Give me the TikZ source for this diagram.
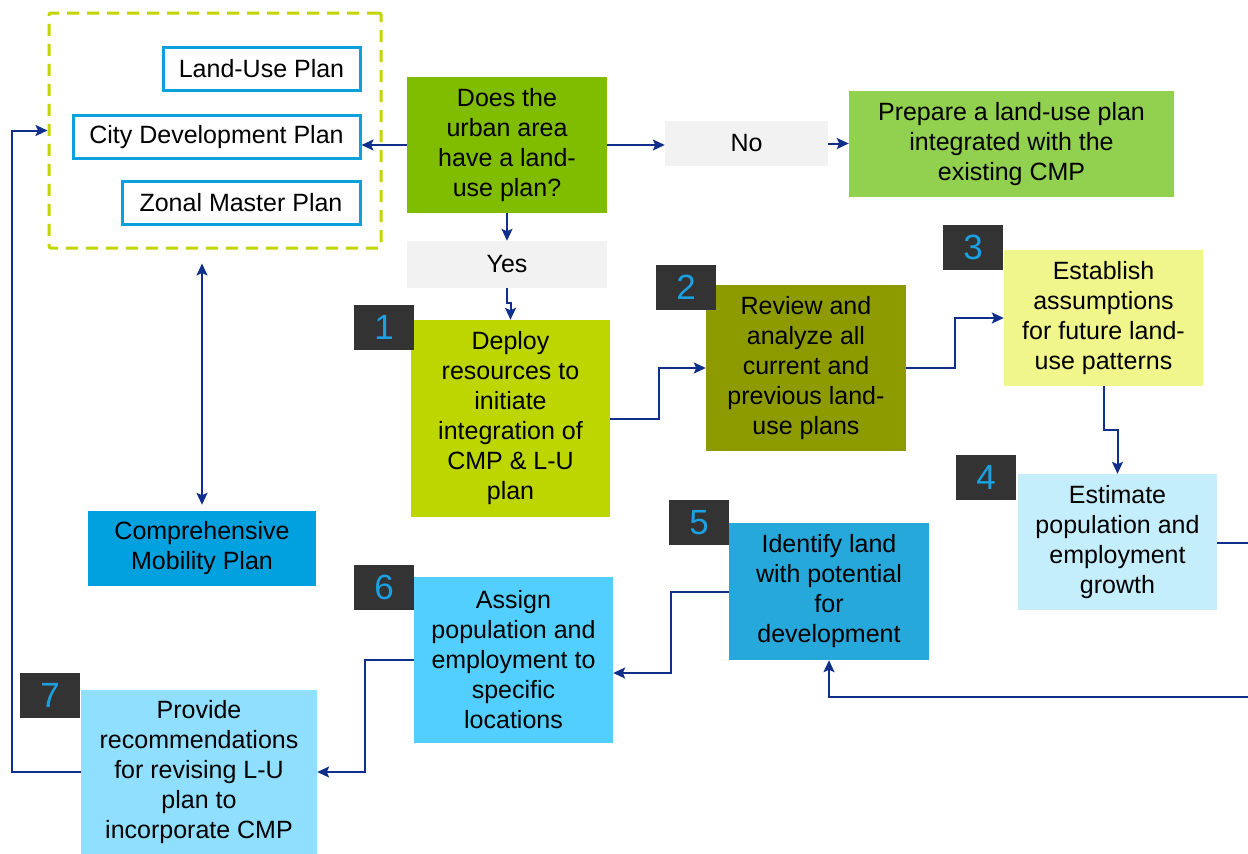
\documentclass[tikz,border=0pt]{standalone}
\usepackage{fontspec}
\setmainfont{Liberation Sans}
\usetikzlibrary{arrows.meta,calc}
\definecolor{arrowblue}{HTML}{102F8A}
\definecolor{numblue}{HTML}{1BA1E2}
\definecolor{numbg}{HTML}{333333}
\definecolor{planline}{HTML}{0AA1DD}
\definecolor{dashgreen}{HTML}{C2D500}
\definecolor{qgreen}{HTML}{80BC00}
\definecolor{prepgreen}{HTML}{92D050}
\definecolor{answergray}{HTML}{F2F2F2}
\definecolor{stepone}{HTML}{BED600}
\definecolor{steptwo}{HTML}{8E9B00}
\definecolor{stepthree}{HTML}{F1F68C}
\definecolor{stepfour}{HTML}{C5EEFC}
\definecolor{stepfive}{HTML}{27A8DB}
\definecolor{stepsix}{HTML}{52CFFE}
\definecolor{stepseven}{HTML}{91DFFF}
\definecolor{cmpblue}{HTML}{00A1DE}
\tikzset{
  box/.style={rectangle, inner sep=0pt, align=center, text=black,
    font=\fontsize{25}{30}\selectfont},
  planbox/.style={box, draw=planline, line width=3pt, fill=white,
    minimum height=43pt},
  numbox/.style={rectangle, fill=numbg, text=numblue, inner sep=0pt,
    minimum width=60pt, minimum height=45pt, font=\fontsize{35}{35}\selectfont},
  tip/.tip={Stealth[length=12pt,width=11pt,inset=2.5pt]},
  arr/.style={draw=arrowblue, line width=2pt, -tip},
  plainline/.style={draw=arrowblue, line width=2pt},
}
\begin{document}
\begin{tikzpicture}[x=1pt,y=-1pt]
\useasboundingbox (0,0) rectangle (1248,854);
\clip (0,0) rectangle (1248,854);

% group of existing plans
\node[draw=dashgreen, line width=3pt, dash pattern=on 12pt off 8pt,
      rounded corners=2pt, minimum width=332pt, minimum height=235pt,
      inner sep=0pt] (plans) at (215,130.5) {};
\node[planbox, minimum width=197pt] (lup) at (261.5,69) {Land-Use Plan};
\node[planbox, minimum width=287pt] (cdp) at (216.5,137) {City Development Plan};
\node[planbox, minimum width=238pt] (zmp) at (241,203) {Zonal Master Plan};

% decision
\node[box, fill=qgreen, minimum width=200pt, minimum height=136pt] (q) at (507,145)
  {Does the\\urban area\\have a land-\\use plan?};
\node[box, fill=answergray, minimum width=163pt, minimum height=45pt] (no) at (746.5,143.5) {No};
\node[box, fill=prepgreen, minimum width=325pt, minimum height=106pt] (prep) at (1011.5,144)
  {Prepare a land-use plan\\integrated with the\\existing CMP};
\node[box, fill=answergray, minimum width=200pt, minimum height=47pt] (yes) at (507,264.5) {Yes};

% steps
\node[box, fill=stepone, minimum width=199pt, minimum height=197pt] (s1) at (510.5,418.5)
  {Deploy\\resources to\\initiate\\integration of\\CMP \& L-U\\plan};
\node[box, fill=steptwo, minimum width=200pt, minimum height=166pt] (s2) at (806,368)
  {Review and\\analyze all\\current and\\previous land-\\use plans};
\node[box, fill=stepthree, minimum width=199pt, minimum height=136pt] (s3) at (1103.5,318)
  {Establish\\assumptions\\for future land-\\use patterns};
\node[box, fill=stepfour, minimum width=199pt, minimum height=136pt] (s4) at (1117.5,542)
  {Estimate\\population and\\employment\\growth};
\node[box, fill=stepfive, minimum width=200pt, minimum height=137pt] (s5) at (829,591.5)
  {Identify land\\with potential\\for\\development};
\node[box, fill=stepsix, minimum width=199pt, minimum height=166pt] (s6) at (513.5,660)
  {Assign\\population and\\employment to\\specific\\locations};
\node[box, fill=stepseven, minimum width=236pt, minimum height=164pt] (s7) at (199,772)
  {Provide\\recommendations\\for revising L-U\\plan to\\incorporate CMP};
\node[box, fill=cmpblue, minimum width=228pt, minimum height=75pt] (cmp) at (202,548.5)
  {Comprehensive\\Mobility Plan};

% step numbers
\node[numbox] (n1) at (384,327.5) {1};
\node[numbox] (n2) at (686,287.5) {2};
\node[numbox] (n3) at (973,247.5) {3};
\node[numbox] (n4) at (986,477.5) {4};
\node[numbox] (n5) at (699,522.5) {5};
\node[numbox] (n6) at (384,587.5) {6};
\node[numbox] (n7) at (50,695) {7};

% loose ends running past the right border
\coordinate (outA) at (1260,543);
\coordinate (outB) at (1260,697);

% connectors
\draw[arr] (q.west) -- (q.west -| cdp.east);
\draw[arr] (q.east) -- (q.east -| no.west);
\draw[arr] (no.east) -- (no.east -| prep.west);
\draw[arr] (q.south) -- (yes.north);
\draw[arr] (yes.south) -- ++(0,15) -| (s1.north);
\draw[arr] (s1.east) -- ++(49,0) |- (s2.west);
\draw[arr] (s2.east) -- ++(49,0) |- (s3.west);
\draw[arr] (s3.south) -- ++(0,44) -| (s4.north);
\draw[plainline] (s4.east |- outA) -- (outA);
\draw[arr] (outB) -| (s5.south);
\draw[arr] (s5.west) -- ++(-58,0) |- ([yshift=-13pt]s6.east);
\draw[arr] (s6.west) -- ++(-49,0) |- (s7.east);
\draw[arr] (s7.west) -- ++(-69,0) |- (plans.west);
\draw[arr, tip-tip]
  ($(cmp.north |- plans.south)+(0,14)$) -- ($(cmp.north)+(0,-6)$);
\end{tikzpicture}
\end{document}
